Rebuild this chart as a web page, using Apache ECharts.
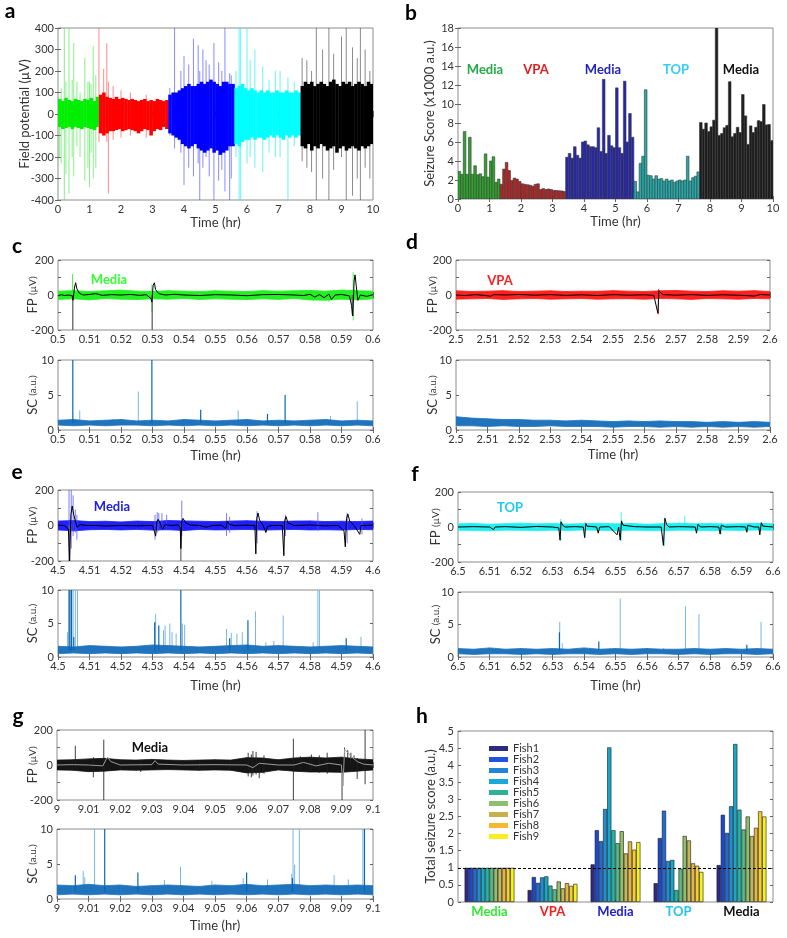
<!DOCTYPE html>
<html><head><meta charset="utf-8">
<script src="https://cdn.jsdelivr.net/npm/echarts@6/dist/echarts.min.js"></script>
<style>html,body{margin:0;padding:0;background:#fff}#main{width:787px;height:938px}</style>
</head><body><div id="main"></div>
<script>
// ---------------- DATA ----------------
// Panel a: envelope of field potential (µV) every 0.1 hr, per treatment period
const aSegStart = [0, 1.3, 3.5, 5.6, 7.7];
const aStep = 0.1;
const aGreenHi = [70,60,75,65,60,70,65,60,70,65,75,60,80];
const aGreenLo = [-60,-70,-65,-60,-70,-60,-65,-70,-60,-65,-70,-75,-60];
const aRedHi = [90,100,80,75,70,80,70,75,70,65,70,65,60,65,70,60,65,60,70,65,60,65];
const aRedLo = [-90,-100,-90,-80,-80,-75,-70,-80,-75,-70,-75,-80,-90,-80,-70,-75,-100,-80,-70,-75,-60,-70];
const aBlueHi = [90,100,100,110,120,130,140,130,130,140,150,140,150,160,150,140,130,150,150,140,140];
const aBlueLo = [-90,-100,-110,-120,-140,-150,-160,-150,-140,-160,-170,-180,-170,-160,-180,-170,-190,-180,-170,-150,-150];
const aCyanHi = [120,130,140,120,110,120,110,100,110,100,110,100,100,110,100,100,110,100,100,110,100];
const aCyanLo = [-140,-150,-130,-120,-120,-110,-120,-110,-110,-120,-110,-100,-110,-100,-110,-120,-100,-110,-100,-110,-100];
const aBlackHi = [130,150,140,150,130,140,150,140,130,150,160,140,130,150,140,150,130,140,150,140,130,150,140];
const aBlackLo = [-150,-160,-140,-170,-150,-160,-140,-150,-170,-160,-150,-180,-160,-150,-170,-160,-150,-160,-170,-150,-160,-150,-140];
// spikes: [time hr, top µV, bottom µV]
const aGreenSpikes = [[0.05,60,-200],[0.1,120,-230],[0.2,400,-400],[0.25,150,-280],[0.35,400,-370],[0.45,160,-200],[0.5,330,-290],[0.6,150,-150],[0.7,100,-200],[0.85,260,-310],[0.95,150,-250],[1.0,150,-340],[1.05,140,-180],[1.12,315,-300],[1.2,180,-250]];
const aRedSpikes = [[1.3,400,-130],[1.45,210,-100],[1.55,330,-130],[1.6,150,-370],[1.75,130,-120],[2.0,110,-110],[2.3,100,-100],[2.8,90,-110]];
const aBlueSpikes = [[3.55,120,-100],[3.7,400,-160],[3.9,200,-180],[4.0,270,-330],[4.15,230,-250],[4.3,350,-290],[4.45,320,-230],[4.5,200,-400],[4.6,300,-250],[4.7,250,-200],[4.8,230,-290],[4.95,330,-400],[5.1,240,-310],[5.2,200,-260],[5.3,400,-360],[5.45,190,-400],[5.5,180,-300]];
const aCyanSpikes = [[5.65,200,-200],[5.75,400,-400],[5.8,400,-400],[6.0,400,-230],[6.1,250,-200],[6.25,300,-250],[6.5,220,-270],[6.7,160,-180],[6.9,200,-200],[7.05,200,-200],[7.3,170,-400],[7.5,150,-150]];
const aBlackSpikes = [[7.75,260,-220],[7.9,250,-250],[8.05,200,-270],[8.2,400,-400],[8.4,300,-300],[8.6,400,-400],[8.75,280,-260],[9.0,360,-200],[9.15,400,-400],[9.35,310,-380],[9.5,260,-300],[9.6,400,-400],[9.75,300,-250],[9.9,200,-300]];

// Panel b: seizure score (x1000 a.u.) in 5-minute bins
const bBinsPerHour = 12;
const bGreen = [2.9,2.6,7.1,2.6,6.5,2.6,3.5,2.55,2.65,2.35,4.75,2.3,4.0,4.45,1.75,2.1];
const bRed = [1.55,3.15,3.85,3.0,1.95,2.2,2.1,1.85,1.6,1.55,1.5,1.45,1.35,1.55,1.6,1.0,1.1,1.0,1.05,1.0,0.9,0.9,0.87,0.85,0.8];
const bBlue = [4.4,4.8,4.3,5.5,4.6,4.3,6.0,6.1,5.7,5.5,5.5,5.4,7.5,5.0,12.6,4.8,6.7,5.6,5.4,11.7,5.4,4.8,12.4,6.0,9.0,6.5];
const bCyan = [1.85,0.75,3.75,4.5,11.5,2.5,2.45,2.1,2.45,2.1,2.15,1.9,2.1,1.9,2.0,1.75,1.9,2.0,1.9,2.0,4.5,1.9,2.25,2.4,2.85];
const bBlack = [8.05,7.35,8.0,7.1,7.6,8.3,18,6.7,6.9,7.5,7.75,12.35,6.55,6.9,7.55,7.0,11.0,8.75,5.75,7.7,7.0,7.55,8.25,8.15,9.95,7.8,7.85,6.15];

// Panels c-g: FP envelope every 0.005 hr, filtered trace, spikes; SC envelope and spikes
const zoomStep = 0.005;
const cStart = 0.5, dStart = 2.5, eStart = 4.5, fStart = 6.5, gStart = 9.0;
const cFpHi = [22,25,20,24,28,22,20,25,22,20,24,22,20,25,22,24,26,22,28,25,22];
const cFpLo = [-25,-22,-28,-20,-24,-26,-22,-24,-20,-25,-22,-24,-26,-22,-25,-20,-28,-30,-24,-28,-22];
const cFpMean = [[0.5,-5],[0.501,2],[0.502,-3],[0.5035,0],[0.5045,-5],[0.5048,-30],[0.5052,40],[0.5056,70],[0.506,35],[0.5068,10],[0.508,0],[0.51,3],[0.512,8],[0.514,-2],[0.517,2],[0.52,0],[0.523,3],[0.526,-2],[0.528,2],[0.5295,-20],[0.5298,-40],[0.5302,55],[0.5306,70],[0.531,30],[0.532,8],[0.534,0],[0.537,4],[0.54,0],[0.545,-3],[0.55,2],[0.555,0],[0.56,-4],[0.565,2],[0.57,3],[0.575,0],[0.578,-3],[0.58,4],[0.5815,-12],[0.583,2],[0.5845,-15],[0.586,5],[0.5868,-25],[0.588,0],[0.59,3],[0.5925,-5],[0.5932,-60],[0.5936,-120],[0.594,80],[0.5943,115],[0.5947,50],[0.5952,-30],[0.596,0],[0.598,-8],[0.6,2]];
const cFpSpikes = [[0.5046,120,-30],[0.5298,60,-95],[0.5937,130,-145],[0.581,30,-35],[0.586,25,-40]];
const cFpDark = [[0.5047,0,-200],[0.5299,0,-200],[0.5934,0,-110]];
const cScHi = [1.4,1.5,1.3,1.4,1.5,1.3,1.4,1.3,1.5,1.4,1.3,1.4,1.5,1.3,1.4,1.3,1.4,1.5,1.3,1.4,1.3];
const cScLo = [0.7,0.6,0.7,0.6,0.7,0.7,0.6,0.7,0.6,0.7,0.6,0.7,0.6,0.7,0.6,0.7,0.6,0.7,0.6,0.7,0.6];
const cScDark = [[0.5047,10],[0.5298,10],[0.5453,2.9],[0.5665,2.3],[0.5721,5.0]];
const cScLight = [[0.5069,2.8],[0.5175,1.6],[0.5255,5.5],[0.5572,2.8],[0.5865,2.0],[0.595,4.1]];

const dFpHi = [24,20,22,25,20,22,24,20,22,21,25,22,20,24,26,22,20,24,22,25,20];
const dFpLo = [-24,-22,-20,-25,-22,-20,-24,-22,-20,-24,-22,-21,-24,-20,-22,-25,-20,-22,-24,-20,-22];
const dFpMean = [[2.5,0],[2.503,-3],[2.506,2],[2.509,-2],[2.511,-7],[2.512,2],[2.516,0],[2.52,3],[2.525,-1],[2.53,2],[2.535,-2],[2.54,1],[2.545,-3],[2.55,2],[2.555,-1],[2.56,1],[2.563,-2],[2.5643,-105],[2.5646,25],[2.5652,12],[2.566,2],[2.57,-1],[2.575,2],[2.58,-2],[2.585,1],[2.59,-1],[2.595,-6],[2.597,3],[2.6,0]];
const dFpSpikes = [[2.5645,35,-110]];
const dFpDark = [];
const dScHi = [1.9,1.7,1.6,1.5,1.5,1.4,1.4,1.3,1.4,1.3,1.2,1.3,1.2,1.3,1.2,1.2,1.1,1.2,1.1,1.2,1.1];
const dScLo = [0.6,0.6,0.5,0.6,0.5,0.5,0.6,0.5,0.5,0.5,0.4,0.5,0.5,0.4,0.5,0.4,0.5,0.4,0.5,0.4,0.5];
const dScDark = [];
const dScLight = [];

const eFpHi = [25,28,22,24,20,25,22,28,26,24,22,25,27,24,22,25,26,22,24,22,25];
const eFpLo = [-25,-30,-24,-22,-25,-22,-26,-24,-28,-22,-25,-24,-22,-26,-24,-22,-25,-24,-26,-22,-24];
const eFpMean = [[4.5,2],[4.502,0],[4.5033,-20],[4.5037,-200],[4.5041,60],[4.5045,110],[4.505,60],[4.5056,20],[4.506,-10],[4.507,5],[4.509,0],[4.512,0],[4.515,-3],[4.52,0],[4.525,-2],[4.53,0],[4.5307,-40],[4.531,-60],[4.5314,20],[4.5318,35],[4.5325,10],[4.5332,-20],[4.534,5],[4.536,0],[4.538,3],[4.5388,-10],[4.539,-130],[4.5393,20],[4.5397,40],[4.5405,15],[4.542,3],[4.545,0],[4.547,-10],[4.549,0],[4.552,2],[4.5533,-20],[4.5537,25],[4.5545,5],[4.556,0],[4.56,2],[4.5625,0],[4.5628,-160],[4.5631,40],[4.5635,70],[4.564,30],[4.565,5],[4.566,-40],[4.5665,-5],[4.568,0],[4.5712,0],[4.5717,-170],[4.572,30],[4.5724,50],[4.573,15],[4.575,0],[4.58,3],[4.585,-2],[4.589,0],[4.5908,-30],[4.5912,-120],[4.5916,40],[4.592,65],[4.5926,25],[4.594,0],[4.5958,-50],[4.5962,0],[4.6,2]];
const eFpSpikes = [[4.5035,200,-200],[4.5042,200,-130],[4.5048,170,-60],[4.5055,90,-40],[4.506,60,-80],[4.5308,60,-80],[4.5315,75,-40],[4.532,70,-30],[4.533,70,-20],[4.5345,60,-10],[4.5393,140,-60],[4.5535,70,-60],[4.5545,50,-40],[4.5632,80,-100],[4.5722,60,-60],[4.5825,75,-30],[4.5918,70,-100],[4.5965,40,-50]];
const eFpDark = [[4.5036,0,-200],[4.539,0,-200]];
const eScHi = [1.6,1.5,1.7,1.6,1.5,1.6,1.8,1.7,1.6,1.5,1.6,1.7,1.8,1.6,1.7,1.6,1.5,1.6,1.7,1.6,1.5];
const eScLo = [0.5,0.6,0.5,0.6,0.5,0.6,0.5,0.6,0.5,0.6,0.5,0.6,0.5,0.6,0.5,0.6,0.5,0.6,0.5,0.6,0.5];
const eScDark = [[4.5035,10],[4.5038,10],[4.5043,10],[4.505,3.0],[4.5307,5.2],[4.532,4.7],[4.539,10],[4.5545,2.8],[4.5603,5.5],[4.5915,2.8]];
const eScLight = [[4.503,3.7],[4.5048,10],[4.5055,10],[4.5062,10],[4.531,6.4],[4.5335,4.0],[4.534,4.7],[4.5355,5.0],[4.5362,3.7],[4.5375,3.5],[4.5395,5.0],[4.5402,4.8],[4.5535,4.2],[4.555,3.6],[4.5568,3.5],[4.5585,3.7],[4.5627,6.8],[4.566,2.2],[4.5685,2.4],[4.5715,6.2],[4.581,2.2],[4.5825,10],[4.583,10],[4.5962,3.0]];

const fFpHi = [18,20,16,19,22,18,20,17,19,21,18,20,16,19,22,18,20,17,19,21,18];
const fFpLo = [-18,-20,-22,-18,-19,-21,-18,-20,-17,-19,-21,-18,-20,-22,-18,-19,-21,-18,-20,-17,-19];
const fFpMean = [[6.5,0],[6.505,2],[6.51,0],[6.5113,-15],[6.5118,0],[6.515,2],[6.52,-2],[6.525,3],[6.53,0],[6.532,-5],[6.5324,-75],[6.5327,30],[6.5332,10],[6.534,0],[6.537,2],[6.5398,0],[6.5402,-60],[6.5406,20],[6.541,5],[6.544,0],[6.5445,-35],[6.545,0],[6.548,2],[6.5505,-45],[6.551,0],[6.5515,-75],[6.5519,35],[6.5524,10],[6.553,0],[6.556,2],[6.56,0],[6.5645,0],[6.5652,-105],[6.5657,50],[6.5662,15],[6.567,0],[6.57,2],[6.5753,0],[6.5757,-35],[6.5762,15],[6.577,0],[6.58,2],[6.5828,0],[6.5832,-40],[6.5836,10],[6.585,0],[6.589,2],[6.5913,0],[6.5917,-30],[6.592,10],[6.594,0],[6.5955,0],[6.5958,-45],[6.5963,25],[6.5968,5],[6.6,0]];
const fFpSpikes = [[6.5326,45,-80],[6.5403,30,-65],[6.5518,85,-80],[6.5655,55,-110],[6.572,65,-20],[6.5835,25,-45]];
const fFpDark = [];
const fScHi = [1.3,1.2,1.4,1.2,1.3,1.2,1.3,1.2,1.4,1.2,1.3,1.2,1.3,1.2,1.2,1.3,1.2,1.3,1.2,1.3,1.2];
const fScLo = [0.5,0.4,0.5,0.5,0.4,0.5,0.4,0.5,0.5,0.4,0.5,0.4,0.5,0.5,0.4,0.5,0.4,0.5,0.5,0.4,0.5];
const fScDark = [[6.5322,3.8],[6.5447,2.4],[6.5917,1.9]];
const fScLight = [[6.5323,5.4],[6.5331,2.1],[6.5515,9.0],[6.5653,1.4],[6.5722,7.8],[6.5765,6.6],[6.5962,5.4]];

const gFpHi = [28,30,35,38,30,28,32,28,26,28,30,28,42,40,30,40,45,40,45,35,30];
const gFpLo = [-28,-30,-38,-35,-28,-30,-28,-26,-28,-30,-28,-30,-45,-42,-28,-35,-40,-40,-42,-35,-28];
const gFpMean = [[9,0],[9.005,2],[9.01,0],[9.0145,-5],[9.0155,30],[9.016,45],[9.017,20],[9.02,0],[9.03,2],[9.031,25],[9.032,5],[9.04,0],[9.05,2],[9.06,0],[9.062,-15],[9.064,10],[9.07,0],[9.075,0],[9.078,15],[9.082,-5],[9.086,10],[9.09,0],[9.0905,-120],[9.091,90],[9.093,50],[9.095,20],[9.097,5],[9.1,0]];
const gFpSpikes = [[9.0058,110,-20],[9.0115,45,-70],[9.0148,145,-200],[9.0265,30,-40],[9.0605,70,-65],[9.0615,60,-70],[9.062,80,-60],[9.063,75,-55],[9.064,0,-75],[9.0655,55,-50],[9.0748,150,-200],[9.077,50,-40],[9.0805,60,-30],[9.083,55,-45],[9.0855,70,-50],[9.0902,0,-200],[9.091,100,20],[9.092,85,10],[9.093,70,0],[9.094,55,-10],[9.095,40,-80],[9.0975,200,-110]];
const gFpDark = [];
const gScHi = [2.0,1.9,2.1,1.9,2.0,1.8,1.9,2.0,1.9,1.8,2.0,1.9,2.1,1.9,2.0,2.1,1.9,2.0,1.9,2.0,1.9];
const gScLo = [0.6,0.7,0.6,0.7,0.6,0.7,0.6,0.7,0.6,0.7,0.6,0.7,0.6,0.7,0.6,0.7,0.6,0.7,0.6,0.7,0.6];
const gScDark = [[9.0058,3.4],[9.0151,10],[9.0256,3.8],[9.06,3.8],[9.0745,3.0],[9.0973,10]];
const gScLight = [[9.0083,4.0],[9.0088,3.1],[9.0119,10],[9.034,2.7],[9.0391,4.6],[9.049,2.6],[9.0589,3.0],[9.0666,2.8],[9.0743,3.6],[9.0747,10],[9.0752,4.9],[9.0767,10],[9.0877,3.4],[9.0922,2.8],[9.0968,10]];

// Panel h: total seizure score per fish (a.u.)
const hCategories = ['Media','VPA','Media','TOP','Media'];
const hFishNames = ['Fish1','Fish2','Fish3','Fish4','Fish5','Fish6','Fish7','Fish8','Fish9','Fish10','Fish11','Fish12'];
const hMedia1 = [1,1,1,1,1,1,1,1,1,1,1,1];
const hVPA = [0.35,0.73,0.56,0.72,0.75,0.48,0.37,0.60,0.40,0.55,0.47,0.53];
const hMedia2 = [1.10,2.10,1.78,2.72,4.52,2.10,1.72,2.07,1.42,1.77,1.53,1.75];
const hTOP = [0.55,1.87,2.67,1.20,1.23,0.35,0.97,1.93,1.80,1.13,1.06,0.88];
const hMedia3 = [1.08,2.55,2.02,2.80,4.62,2.70,2.12,2.50,1.93,2.17,2.65,2.50];

// ---------------- STYLE / LAYOUT ----------------
const FONT = 'Lato, "Open Sans", sans-serif';
const TXT = '#333';
const option = {animation:false, backgroundColor:'#fff', grid:[], xAxis:[], yAxis:[], series:[], graphic:[]};

function addGrid(l,t,w,h){
  option.grid.push({left:l, top:t, width:w, height:h, show:true, borderColor:'#8c8c8c', borderWidth:1, backgroundColor:'rgba(0,0,0,0)', outerBoundsMode:'none', containLabel:false});
  return option.grid.length-1;
}
function axes(gi, xs, ys){
  const xi = option.xAxis.length, yi = option.yAxis.length;
  const tick = {show:true, inside:true, length:3, lineStyle:{color:'#666', width:1}};
  const base = {axisLine:{show:false}, splitLine:{show:false}, nameMoveOverlap:false};
  const xb = Object.assign({}, base, {type:xs.type||'value', gridIndex:gi, data:xs.data});
  if (xs.type !== 'category') Object.assign(xb, {min:xs.min, max:xs.max, interval:xs.interval});
  option.xAxis.push(Object.assign({}, xb, {position:'bottom',
    axisTick:Object.assign({}, tick, xs.tick||{}),
    axisLabel:Object.assign({color:TXT, fontSize:11, fontFamily:FONT, margin:4}, xs.label||{}),
    name:xs.name||'', nameLocation:'middle', nameGap:xs.nameGap||18,
    nameTextStyle:{color:TXT, fontSize:13, fontFamily:FONT}}));
  option.xAxis.push(Object.assign({}, xb, {position:'top', axisTick:xs.type==='category'?{show:false}:tick, axisLabel:{show:false}}));
  const yb = Object.assign({}, base, {type:'value', gridIndex:gi, min:ys.min, max:ys.max, interval:ys.interval});
  option.yAxis.push(Object.assign({}, yb, {position:'left', axisTick:tick,
    axisLabel:Object.assign({color:TXT, fontSize:11, fontFamily:FONT, margin:4}, ys.label||{}),
    name:ys.name||'', nameLocation:'middle', nameGap:ys.nameGap||20,
    nameTextStyle:Object.assign({color:TXT, fontSize:13, fontFamily:FONT}, ys.nameStyle||{})}));
  option.yAxis.push(Object.assign({}, yb, {position:'right', axisTick:tick, axisLabel:{show:false}}));
  return {x:xi, y:yi};
}

// renderers
function rectBand(color){
  return (p, api) => {
    const a = api.coord([api.value(0), api.value(2)]);
    const b = api.coord([api.value(1), api.value(3)]);
    return {type:'rect', shape:{x:a[0], y:a[1], width:b[0]-a[0]+0.4, height:b[1]-a[1]}, style:{fill:color}};
  };
}
function polyBand(color){
  return (p, api) => {
    const a = api.coord([api.value(0), api.value(1)]);
    const b = api.coord([api.value(3), api.value(4)]);
    const c = api.coord([api.value(3), api.value(5)]);
    const d = api.coord([api.value(0), api.value(2)]);
    return {type:'polygon', shape:{points:[a,b,c,d]}, style:{fill:color, stroke:color, lineWidth:0.8}};
  };
}
function vLines(color, w){
  return (p, api) => {
    const a = api.coord([api.value(0), api.value(1)]);
    const b = api.coord([api.value(0), api.value(2)]);
    return {type:'line', shape:{x1:a[0], y1:a[1], x2:b[0], y2:b[1]}, style:{stroke:color, lineWidth:w}};
  };
}
function scSpikes(color, w){
  return (p, api) => {
    const a = api.coord([api.value(0), 1]);
    const b = api.coord([api.value(0), api.value(1)]);
    return {type:'line', shape:{x1:a[0], y1:a[1], x2:b[0], y2:b[1]}, style:{stroke:color, lineWidth:w}};
  };
}
function barRect(color){
  return (p, api) => {
    const a = api.coord([api.value(0), api.value(2)]);
    const b = api.coord([api.value(1), 0]);
    return {type:'rect', shape:{x:a[0], y:a[1], width:b[0]-a[0], height:b[1]-a[1]}, style:{fill:color, stroke:'#3c3c3c', lineWidth:0.6}};
  };
}
function custom(ax, data, render, z){
  option.series.push({type:'custom', xAxisIndex:ax.x, yAxisIndex:ax.y, data:data, renderItem:render, clip:true, silent:true, z:z||2, encode:{x:0, y:1}});
}
function bandItems(start, step, hi, lo){
  const out = [];
  for (let i = 0; i < hi.length-1; i++) out.push([start+i*step, hi[i], lo[i], start+(i+1)*step, hi[i+1], lo[i+1]]);
  return out;
}

// ---------------- PANEL a ----------------
const axA = axes(addGrid(58,28,315,172),
  {min:0, max:10, interval:1, name:'Time (hr)', nameGap:16},
  {min:-400, max:400, interval:100, name:'Field potential (µV)', nameGap:27});
const aHis = [aGreenHi, aRedHi, aBlueHi, aCyanHi, aBlackHi];
const aLos = [aGreenLo, aRedLo, aBlueLo, aCyanLo, aBlackLo];
const aSpk = [aGreenSpikes, aRedSpikes, aBlueSpikes, aCyanSpikes, aBlackSpikes];
const aColors = ['#00ee00','#ff0000','#0000ff','#00ffff','#000000'];
const aSpikeColors = ['rgba(60,230,60,0.6)','rgba(255,60,60,0.6)','rgba(60,60,255,0.6)','rgba(40,240,240,0.7)','rgba(60,60,60,0.6)'];
aHis.forEach((hi, k) => {
  custom(axA, aSpk[k], vLines(aSpikeColors[k], 1), 2);
  custom(axA, hi.map((v,j) => [aSegStart[k]+j*aStep, aSegStart[k]+(j+1)*aStep, v, aLos[k][j]]), rectBand(aColors[k]), 3);
});

// ---------------- PANEL b ----------------
const axB = axes(addGrid(458,28,315,171),
  {min:0, max:10, interval:1, name:'Time (hr)', nameGap:16},
  {min:0, max:18, interval:2, name:'Seizure Score (x1000 a.u.)', nameGap:22});
const bSegs = [bGreen, bRed, bBlue, bCyan, bBlack];
const bColors = ['#2ca42c','#b32626','#2626ad','#22abab','#1c1c1c'];
let bBin = 0;
bSegs.forEach((arr, k) => {
  custom(axB, arr.map((v,j) => [(bBin+j)/bBinsPerHour, (bBin+j+1)/bBinsPerHour, v]), barRect(bColors[k]), 3);
  bBin += arr.length;
});

// ---------------- PANELS c-g ----------------
const fpName = {name:'{a|FP} {b|(µV)}', nameStyle:{rich:{a:{fontSize:13, fontFamily:FONT, color:TXT}, b:{fontSize:10, fontFamily:FONT, color:TXT}}}};
const scName = {name:'{a|SC} {b|(a.u.)}', nameStyle:{rich:{a:{fontSize:13, fontFamily:FONT, color:TXT}, b:{fontSize:10, fontFamily:FONT, color:TXT}}}};
const fpLabel = {formatter: v => (Math.round(v) % 200 === 0 ? String(Math.round(v)) : '')};

function zoomPanel(fpBox, scBox, start, fp, sc, colors, gaps){
  const axF = axes(addGrid(...fpBox),
    {min:start, max:start+0.1, interval:0.01},
    Object.assign({min:-200, max:200, interval:100, nameGap:gaps[0], label:fpLabel}, fpName));
  const axS = axes(addGrid(...scBox),
    {min:start, max:start+0.1, interval:0.01, name:'Time (hr)', nameGap:gaps[1]},
    Object.assign({min:0, max:10, interval:5, nameGap:gaps[0]}, scName));
  custom(axF, bandItems(start, zoomStep, fp.hi, fp.lo), polyBand(colors.band), 2);
  custom(axF, fp.spikes, vLines(colors.spike, 1), 3);
  custom(axF, fp.dark, vLines(colors.dark, 1.2), 4);
  option.series.push({type:'line', xAxisIndex:axF.x, yAxisIndex:axF.y, data:fp.mean, showSymbol:false, clip:true, silent:true, z:5,
    lineStyle:{color:colors.line, width:1}});
  custom(axS, sc.light, scSpikes('#79b6e4', 1), 2);
  custom(axS, bandItems(start, zoomStep, sc.hi, sc.lo), polyBand('#1f74bd'), 3);
  custom(axS, sc.dark, scSpikes('#0a66b2', 1.2), 4);
}
zoomPanel([58,260,315,70],[58,360,315,70], cStart,
  {hi:cFpHi, lo:cFpLo, mean:cFpMean, spikes:cFpSpikes, dark:cFpDark},
  {hi:cScHi, lo:cScLo, dark:cScDark, light:cScLight},
  {band:'#22f022', spike:'rgba(40,240,40,0.8)', dark:'#555', line:'#000'}, [19,19]);
zoomPanel([456,260,314,70],[456,360,314,70], dStart,
  {hi:dFpHi, lo:dFpLo, mean:dFpMean, spikes:dFpSpikes, dark:dFpDark},
  {hi:dScHi, lo:dScLo, dark:dScDark, light:dScLight},
  {band:'#ff2020', spike:'rgba(255,40,40,0.8)', dark:'#555', line:'#000'}, [17,18]);
zoomPanel([58,490,315,71],[58,590,315,67], eStart,
  {hi:eFpHi, lo:eFpLo, mean:eFpMean, spikes:eFpSpikes, dark:eFpDark},
  {hi:eScHi, lo:eScLo, dark:eScDark, light:eScLight},
  {band:'#2020ff', spike:'rgba(80,80,255,0.75)', dark:'#666', line:'#000'}, [19,22]);
zoomPanel([458,492,315,70],[458,592,315,65], fStart,
  {hi:fFpHi, lo:fFpLo, mean:fFpMean, spikes:fFpSpikes, dark:fFpDark},
  {hi:fScHi, lo:fScLo, dark:fScDark, light:fScLight},
  {band:'#20f0f0', spike:'rgba(40,240,240,0.85)', dark:'#555', line:'#000'}, [16,22]);
zoomPanel([57,730,316,70],[57,829,316,70], gStart,
  {hi:gFpHi, lo:gFpLo, mean:gFpMean, spikes:gFpSpikes, dark:gFpDark},
  {hi:gScHi, lo:gScLo, dark:gScDark, light:gScLight},
  {band:'#141414', spike:'rgba(30,30,30,0.85)', dark:'#333', line:'#9a9a9a'}, [18,20]);

// ---------------- PANEL h ----------------
const hColors = ['#2e2a88','#1a47d4','#1d6ad8','#1a8fd6','#14a9c8','#25b6a6','#58bc88','#93bf6a','#c2b855','#e6b640','#f6ce2c','#f8f41a'];
const hLegendColors = ['#2b2b80','#1f52e0','#2284d8','#1aa8d8','#30b098','#8cbf70','#c9b04e','#f5b832','#f8ee22'];
const hLabelColors = ['#33e833','#f02020','#2020c8','#22c4f0','#111111'];
const axH = axes(addGrid(458,731,315,171),
  {type:'category', data:hCategories, tick:{show:true, alignWithLabel:true, length:2, interval:0},
   label:{margin:3, interval:0, formatter:(v,i)=>'{c'+i+'|'+v+'}',
     rich:Object.fromEntries(hLabelColors.map((c,i)=>['c'+i,{color:c, fontWeight:'bold', fontSize:13, fontFamily:FONT}]))}},
  {min:0, max:5, interval:0.5, name:'Total seizure score (a.u.)', nameGap:21});
const hGroups = [hMedia1, hVPA, hMedia2, hTOP, hMedia3];
hFishNames.forEach((n, i) => {
  const s = {type:'bar', name:n, xAxisIndex:axH.x, yAxisIndex:axH.y, data:hGroups.map(g => g[i]),
    barGap:'0%', barCategoryGap:'21%', itemStyle:{color:hColors[i], borderColor:'#1a1a1a', borderWidth:0.6}, silent:true, z:3};
  if (i === 0) s.markLine = {silent:true, symbol:['none','none'], label:{show:false}, z:5,
    lineStyle:{color:'#000', type:[3,2], width:1}, data:[{yAxis:1}]};
  option.series.push(s);
});
option.legend = {data:hFishNames.slice(0,9).map((n,i)=>({name:n, itemStyle:{color:hLegendColors[i], borderWidth:0}})),
  orient:'vertical', left:489, top:743, itemWidth:19, itemHeight:5, itemGap:0, icon:'rect', selectedMode:false,
  padding:0, textStyle:{fontSize:11, fontFamily:FONT, color:TXT, lineHeight:9.45, padding:[0,0,0,0]}};

// ---------------- TEXT ----------------
function txt(x, y, s, color, size, weight){
  option.graphic.push({type:'text', x:x, y:y, silent:true, z:50,
    style:{text:s, fill:color, font:(weight||'bold')+' '+size+'px '+FONT, align:'center', verticalAlign:'middle'}});
}
[['a',10,11],['b',411,13],['c',17,246],['d',412,242],['e',17,472],['f',415,474],['g',18,716],['h',422,716]]
  .forEach(l => txt(l[1], l[2], l[0], '#000', 21));
txt(485,70,'Media','#22aa44',13); txt(536,70,'VPA','#e02020',13); txt(603,70,'Media','#2424c4',13);
txt(676,70,'TOP','#33ccff',13); txt(741,70,'Media','#111',13);
txt(109,280,'Media','#33ff33',13); txt(500,281,'VPA','#ff2020',13); txt(112,507,'Media','#2020e0',13);
txt(510,508,'TOP','#22ccee',13); txt(150,748,'Media','#111',13);

const chart = echarts.init(document.getElementById('main'), null, {renderer:'canvas'});
chart.setOption(option);
</script></body></html>
